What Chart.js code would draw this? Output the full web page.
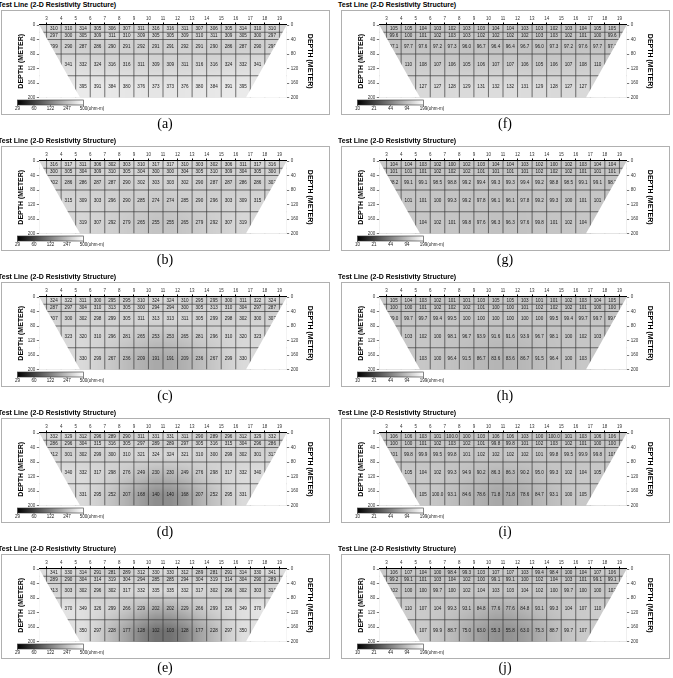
<!DOCTYPE html>
<html>
<head>
<meta charset="utf-8">
<script src="https://cdn.jsdelivr.net/npm/chart.js@4.4.0/dist/chart.umd.min.js"></script>
<style>
  body { margin: 0; background: #fff; width: 673px; height: 678px; overflow: hidden; position: relative;
         font-family: "Liberation Sans", Arial, sans-serif; }
  .panel { position: absolute; width: 336px; height: 136px; }
  .title { position: absolute; left: -2px; top: 1px; font-size: 7px; font-weight: bold; white-space: nowrap; }
  .frame { position: absolute; left: 1px; top: 10px; width: 327px; height: 103px; border: 1px solid #b0b0b0; pointer-events: none; }
  .panel canvas { position: absolute; left: 0; top: 10px; }
  .cap { position: absolute; top: 116px; left: 0; width: 330px; text-align: center;
         font-family: "Liberation Serif", "Times New Roman", serif; font-size: 14px; }
</style>
</head>
<body>
<script>
// electrode numbers along the top, layer boundaries (m)
const electrodes = [3, 4, 5, 6, 7, 8, 9, 10, 11, 12, 13, 14, 15, 16, 17, 18, 19];
const layerTops = [0, 20, 40, 80, 140];
const layerBottoms = [20, 40, 80, 140, 200];
const firstCell = [3, 3, 3, 4, 5];
const depthTicks = [0, 40, 80, 120, 160, 200];
const trapTop = [2.5, 19.5];
const trapBottom = [5.3, 16.7];

// colour bar labels (ohm-m)
const barLeft = ['29', '60', '122', '247', '500'];
const barRight = ['10', '21', '44', '94', '199'];
const rangeLeft = [29, 500];
const rangeRight = [10, 199];

// resistivity values per layer
const resA = [
  [310, 310, 314, 305, 306, 307, 311, 316, 316, 311, 307, 306, 305, 314, 310, 310],
  [297, 300, 305, 309, 311, 310, 309, 305, 305, 309, 310, 311, 309, 305, 300, 297],
  [299, 290, 287, 286, 290, 291, 292, 291, 291, 292, 291, 290, 286, 287, 290, 299],
  [341, 332, 324, 316, 316, 311, 309, 309, 311, 316, 316, 324, 332, 341],
  [395, 391, 384, 380, 376, 373, 373, 376, 380, 384, 391, 395]
];
const resB = [
  [316, 317, 311, 306, 302, 303, 310, 317, 317, 310, 303, 302, 306, 311, 317, 316],
  [300, 305, 304, 309, 310, 305, 304, 300, 300, 304, 305, 310, 309, 304, 305, 300],
  [302, 286, 286, 287, 287, 290, 302, 303, 303, 302, 290, 287, 287, 286, 286, 302],
  [315, 309, 303, 296, 290, 285, 274, 274, 285, 290, 296, 303, 309, 315],
  [319, 307, 292, 279, 265, 255, 255, 265, 279, 292, 307, 319]
];
const resC = [
  [324, 322, 311, 300, 295, 295, 310, 324, 324, 310, 295, 295, 300, 311, 322, 324],
  [287, 297, 304, 310, 313, 305, 300, 294, 294, 300, 305, 313, 310, 304, 297, 287],
  [307, 300, 302, 298, 299, 305, 311, 313, 313, 311, 305, 299, 298, 302, 300, 307],
  [323, 320, 310, 296, 281, 265, 253, 253, 265, 281, 296, 310, 320, 323],
  [330, 299, 267, 236, 209, 191, 191, 209, 236, 267, 299, 330]
];
const resD = [
  [332, 329, 312, 296, 289, 290, 311, 331, 331, 311, 290, 289, 296, 312, 329, 332],
  [286, 296, 304, 315, 316, 305, 297, 289, 289, 297, 305, 316, 315, 304, 296, 286],
  [312, 301, 302, 299, 300, 310, 321, 324, 324, 321, 310, 300, 299, 302, 301, 312],
  [340, 332, 317, 298, 276, 249, 230, 230, 249, 276, 298, 317, 332, 340],
  [331, 295, 252, 207, 168, 140, 140, 168, 207, 252, 295, 331]
];
const resE = [
  [341, 330, 314, 291, 281, 289, 312, 330, 330, 312, 289, 281, 291, 314, 330, 341],
  [289, 290, 304, 314, 319, 304, 294, 285, 285, 294, 304, 319, 314, 304, 290, 289],
  [313, 303, 302, 296, 302, 317, 332, 335, 335, 332, 317, 302, 296, 302, 303, 313],
  [370, 349, 326, 299, 266, 229, 202, 202, 229, 266, 299, 326, 349, 370],
  [350, 297, 228, 177, 128, 102, 103, 128, 177, 228, 297, 350]
];
const resF = [
  [105, 105, 104, 103, 102, 103, 103, 104, 104, 103, 103, 102, 103, 104, 105, 105],
  [99.6, 100, 101, 102, 103, 103, 102, 102, 102, 102, 103, 103, 102, 101, 100, 99.6],
  [97.1, 97.7, 97.6, 97.2, 97.3, 96.0, 96.7, 96.4, 96.4, 96.7, 96.0, 97.3, 97.2, 97.6, 97.7, 97.1],
  [110, 108, 107, 106, 105, 106, 107, 107, 106, 105, 106, 107, 108, 110],
  [127, 127, 128, 129, 131, 132, 132, 131, 129, 128, 127, 127]
];
const resG = [
  [104, 104, 103, 102, 100, 102, 103, 104, 104, 103, 102, 100, 102, 103, 104, 104],
  [101, 101, 101, 102, 102, 102, 101, 101, 101, 101, 102, 102, 102, 101, 101, 101],
  [98.2, 99.1, 99.1, 98.5, 98.8, 99.2, 99.4, 99.3, 99.3, 99.4, 99.2, 98.8, 98.5, 99.1, 99.1, 98.2],
  [101, 101, 100, 99.3, 99.2, 97.8, 96.1, 96.1, 97.8, 99.2, 99.3, 100, 101, 101],
  [104, 102, 101, 99.8, 97.6, 96.3, 96.3, 97.6, 99.8, 101, 102, 104]
];
const resH = [
  [105, 104, 103, 102, 101, 101, 103, 105, 105, 103, 101, 101, 102, 103, 104, 105],
  [100, 100, 101, 102, 102, 102, 101, 100, 100, 101, 102, 102, 102, 101, 100, 100],
  [99.0, 99.7, 99.7, 99.4, 99.5, 100, 100, 100, 100, 100, 100, 99.5, 99.4, 99.7, 99.7, 99.0],
  [103, 102, 100, 98.1, 96.7, 93.9, 91.6, 91.6, 93.9, 96.7, 98.1, 100, 102, 103],
  [103, 100, 96.4, 91.5, 86.7, 83.6, 83.6, 86.7, 91.5, 96.4, 100, 103]
];
const resI = [
  [106, 106, 103, 101, 99.96, 100, 103, 106, 106, 103, 100, 99.96, 101, 103, 106, 106],
  [100, 100, 101, 102, 103, 102, 101, 99.8, 99.8, 101, 102, 103, 102, 101, 100, 100],
  [101, 99.8, 99.9, 99.5, 99.8, 101, 102, 102, 102, 102, 101, 99.8, 99.5, 99.9, 99.8, 101],
  [105, 104, 102, 99.3, 94.9, 90.2, 86.3, 86.3, 90.2, 95.0, 99.3, 102, 104, 105],
  [105, 99.96, 93.1, 84.6, 78.6, 71.8, 71.8, 78.6, 84.7, 93.1, 100, 105]
];
const resJ = [
  [106, 107, 104, 100, 98.4, 99.3, 103, 107, 107, 103, 99.4, 98.4, 100, 104, 107, 106],
  [99.2, 99.1, 101, 103, 104, 102, 100, 99.1, 99.1, 100, 102, 104, 103, 101, 99.1, 99.1],
  [102, 100, 100, 99.7, 100, 102, 104, 103, 103, 104, 102, 100, 99.7, 100, 100, 102],
  [110, 107, 104, 99.3, 93.1, 84.8, 77.6, 77.6, 84.8, 93.1, 99.3, 104, 107, 110],
  [107, 99.9, 88.7, 75.0, 63.0, 55.3, 55.8, 63.0, 75.3, 88.7, 99.7, 107]
];

const panels = [
  { cap: '(a)', res: resA, col: 0, row: 0 }, { cap: '(b)', res: resB, col: 0, row: 1 },
  { cap: '(c)', res: resC, col: 0, row: 2 }, { cap: '(d)', res: resD, col: 0, row: 3 },
  { cap: '(e)', res: resE, col: 0, row: 4 }, { cap: '(f)', res: resF, col: 1, row: 0 },
  { cap: '(g)', res: resG, col: 1, row: 1 }, { cap: '(h)', res: resH, col: 1, row: 2 },
  { cap: '(i)', res: resI, col: 1, row: 3 }, { cap: '(j)', res: resJ, col: 1, row: 4 }
];

Chart.defaults.font.family = '"Liberation Sans", Arial, sans-serif';

function fmt(v) {
  return v < 100 ? v.toFixed(1) : String(Math.round(v));
}

// log-value of a layer at electrode position e (linear between cell centres)
function rowLog(row, r, e) {
  const c0 = firstCell[r] + 0.5;
  const f = e - c0;
  if (f <= 0) return Math.log(row[0]);
  if (f >= row.length - 1) return Math.log(row[row.length - 1]);
  const i = Math.floor(f), t = f - i;
  return Math.log(row[i]) * (1 - t) + Math.log(row[i + 1]) * t;
}

function sectionLog(res, e, d) {
  const mids = layerTops.map((t, r) => (t + layerBottoms[r]) / 2);
  if (d <= mids[0]) return rowLog(res[0], 0, e);
  const last = mids.length - 1;
  if (d >= mids[last]) return rowLog(res[last], last, e);
  let r = 0;
  while (d > mids[r + 1]) r++;
  const t = (d - mids[r]) / (mids[r + 1] - mids[r]);
  return rowLog(res[r], r, e) * (1 - t) + rowLog(res[r + 1], r + 1, e) * t;
}

// shaded section, grid lines and values, then white out everything outside the trapezoid
const gridPlugin = {
  id: 'resGrid',
  beforeDatasetsDraw(chart) {
    const { ctx, chartArea: a, scales: { x, y } } = chart;
    const cfg = chart.options.plugins.resGrid;
    const lo = Math.log(cfg.range[0]), hi = Math.log(cfg.range[1]);

    const left = Math.round(a.left), top = Math.round(a.top);
    const w = Math.round(a.right) - left, h = Math.round(a.bottom) - top;
    const img = ctx.createImageData(w, h);
    for (let py = 0; py < h; py++) {
      const d = y.getValueForPixel(top + py + 0.5);
      for (let px = 0; px < w; px++) {
        const e = x.getValueForPixel(left + px + 0.5);
        let t = (sectionLog(cfg.res, e, d) - lo) / (hi - lo);
        t = Math.max(0, Math.min(1, t));
        const g = Math.round(t * 255), k = (py * w + px) * 4;
        img.data[k] = g; img.data[k + 1] = g; img.data[k + 2] = g; img.data[k + 3] = 255;
      }
    }
    ctx.putImageData(img, left, top);

    ctx.save();
    ctx.beginPath();
    ctx.rect(a.left, a.top, a.width, a.height);
    ctx.clip();

    // grid
    ctx.strokeStyle = '#3a3a3a';
    ctx.lineWidth = 0.7;
    electrodes.forEach(e => {
      const px = x.getPixelForValue(e);
      ctx.beginPath();
      ctx.moveTo(px, y.getPixelForValue(0));
      ctx.lineTo(px, y.getPixelForValue(200));
      ctx.stroke();
    });
    layerTops.slice(1).forEach(d => {
      const py = y.getPixelForValue(d);
      ctx.beginPath();
      ctx.moveTo(a.left, py);
      ctx.lineTo(a.right, py);
      ctx.stroke();
    });

    // values
    ctx.fillStyle = '#1a1a1a';
    ctx.font = '4.6px "Liberation Sans", Arial, sans-serif';
    ctx.textAlign = 'center';
    ctx.textBaseline = 'middle';
    cfg.res.forEach((row, r) => {
      const py = y.getPixelForValue((layerTops[r] + layerBottoms[r]) / 2);
      row.forEach((v, i) => {
        ctx.fillText(fmt(v), x.getPixelForValue(firstCell[r] + i + 0.5), py);
      });
    });

    // mask outside the section
    ctx.fillStyle = '#fff';
    ctx.beginPath();
    ctx.moveTo(x.getPixelForValue(trapTop[0]) - 2, y.getPixelForValue(0));
    ctx.lineTo(x.getPixelForValue(trapTop[0]), y.getPixelForValue(0));
    ctx.lineTo(x.getPixelForValue(trapBottom[0]), y.getPixelForValue(200));
    ctx.lineTo(x.getPixelForValue(trapTop[0]) - 2, y.getPixelForValue(200) + 2);
    ctx.closePath();
    ctx.fill();
    ctx.beginPath();
    ctx.moveTo(x.getPixelForValue(trapTop[1]) + 2, y.getPixelForValue(0));
    ctx.lineTo(x.getPixelForValue(trapTop[1]), y.getPixelForValue(0));
    ctx.lineTo(x.getPixelForValue(trapBottom[1]), y.getPixelForValue(200));
    ctx.lineTo(x.getPixelForValue(trapTop[1]) + 2, y.getPixelForValue(200) + 2);
    ctx.closePath();
    ctx.fill();
    ctx.restore();
  },
  afterDraw(chart) {
    // colour bar
    const { ctx } = chart;
    const labels = chart.options.plugins.resGrid.bar;
    const x0 = 17.5, x1 = 83.5, yb = 90, h = 5;
    const grad = ctx.createLinearGradient(x0, 0, x1, 0);
    grad.addColorStop(0, '#000');
    grad.addColorStop(1, '#fff');
    ctx.save();
    ctx.fillStyle = grad;
    ctx.fillRect(x0, yb, x1 - x0, h);
    ctx.strokeStyle = '#333';
    ctx.lineWidth = 0.6;
    ctx.strokeRect(x0, yb, x1 - x0, h);
    ctx.font = '4.5px "Liberation Sans", Arial, sans-serif';
    ctx.fillStyle = '#222';
    ctx.textBaseline = 'middle';
    labels.forEach((lab, i) => {
      const px = x0 + (x1 - x0) * i / (labels.length - 1);
      ctx.beginPath();
      ctx.moveTo(px, yb + h);
      ctx.lineTo(px, yb + h + 1.5);
      ctx.stroke();
      if (i === labels.length - 1) {
        ctx.textAlign = 'left';
        ctx.fillText(lab + '(ohm-m)', px - ctx.measureText(lab).width / 2, yb + h + 4);
      } else {
        ctx.textAlign = 'center';
        ctx.fillText(lab, px, yb + h + 4);
      }
    });
    ctx.restore();
  }
};

function yAxis(pos, width) {
  return {
    type: 'linear', position: pos, reverse: true, min: 0, max: 200, z: 1,
    afterBuildTicks: s => { s.ticks = depthTicks.map(v => ({ value: v })); },
    afterFit: s => { s.width = width; },
    title: { display: true, text: 'DEPTH (METER)', color: '#000', padding: 0,
             font: { size: 7, weight: 'bold' } },
    ticks: { font: { size: 4.5 }, color: '#333', padding: 1.5 },
    grid: { drawOnChartArea: false, drawTicks: true, tickLength: 2.5, color: '#777' },
    border: { color: '#777', width: 0.8 }
  };
}

panels.forEach(p => {
  const div = document.createElement('div');
  div.className = 'panel';
  div.style.left = (p.col * 340) + 'px';
  div.style.top = (p.row * 136) + 'px';
  div.innerHTML = '<div class="title">Test Line (2-D Resistivity Structure)</div>' +
    '<canvas width="331" height="106"></canvas><div class="frame"></div>' +
    '<div class="cap">' + p.cap + '</div>';
  document.body.appendChild(div);

  const centers = [];
  p.res.forEach((row, r) => row.forEach((v, i) => centers.push({
    x: firstCell[r] + i + 0.5, y: (layerTops[r] + layerBottoms[r]) / 2
  })));

  new Chart(div.querySelector('canvas'), {
    type: 'scatter',
    data: { datasets: [{ data: centers, pointRadius: 0, pointHoverRadius: 0 }] },
    options: {
      responsive: false,
      animation: false,
      events: [],
      layout: { padding: { left: 16.5, right: 16.8, top: 0, bottom: 18.5 } },
      plugins: {
        legend: { display: false },
        tooltip: { enabled: false },
        resGrid: {
          res: p.res,
          range: p.col === 0 ? rangeLeft : rangeRight,
          bar: p.col === 0 ? barLeft : barRight
        }
      },
      scales: {
        x: {
          type: 'linear', position: 'top', min: trapTop[0], max: trapTop[1], z: 1,
          afterBuildTicks: s => { s.ticks = electrodes.map(v => ({ value: v })); },
          afterFit: s => { s.height = 15; },
          ticks: { font: { size: 4.5 }, color: '#333', padding: 1, maxRotation: 0, autoSkip: false },
          grid: { drawOnChartArea: false, drawTicks: true, tickLength: 2.5, color: '#000' },
          border: { color: '#000', width: 1.6 }
        },
        y: yAxis('left', 22.8),
        y2: yAxis('right', 27.5)
      }
    },
    plugins: [gridPlugin]
  });
});
</script>
</body>
</html>
